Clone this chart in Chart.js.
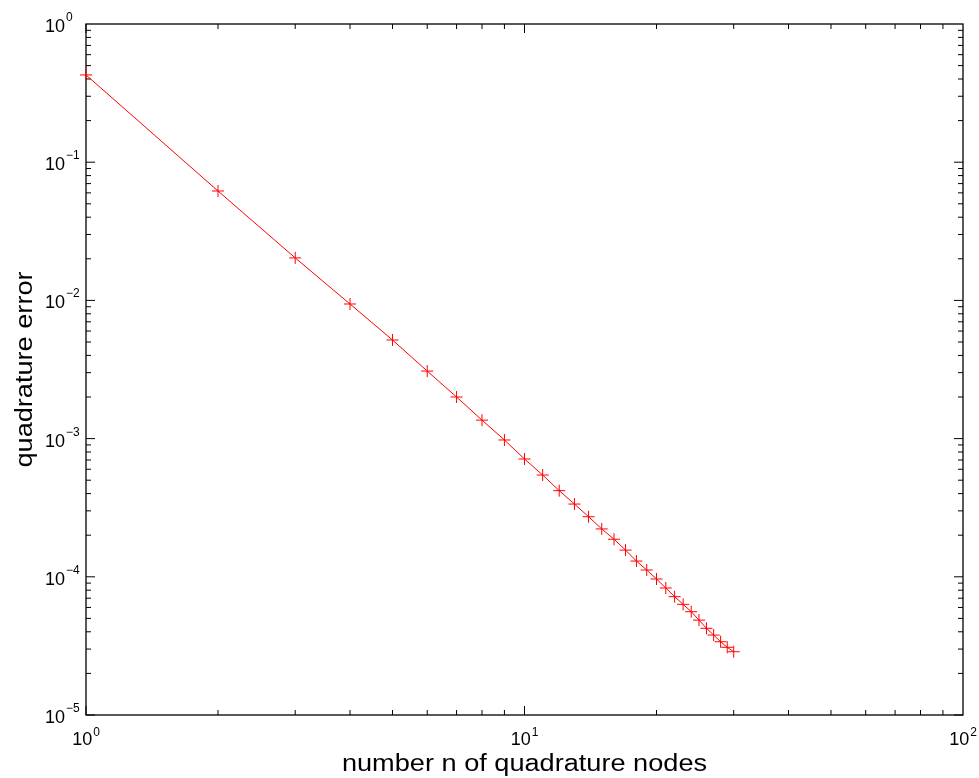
<!DOCTYPE html>
<html>
<head>
<meta charset="utf-8">
<script src="https://cdn.jsdelivr.net/npm/chart.js@4.4.0/dist/chart.umd.min.js"></script>
<style>
  html, body { margin: 0; padding: 0; background: #fff; }
  canvas { display: block; }
</style>
</head>
<body>
<canvas id="myChart" width="979" height="778"></canvas>
<script>
// Datos (n nodos vs error de cuadratura)
const nodes = [1, 2, 3, 4, 5, 6, 7, 8, 9, 10, 11, 12, 13, 14, 15,
               16, 17, 18, 19, 20, 21, 22, 23, 24, 25, 26, 27, 28, 29, 30];
const errors = [0.428, 0.0619, 0.0203, 0.00942, 0.00517, 0.00308, 0.00200, 0.00136, 0.000977, 0.000712,
                0.000545, 0.000420, 0.000336, 0.000272, 0.000222, 0.000187, 0.000156, 0.000130, 0.000112, 0.0000964,
                0.0000830, 0.0000718, 0.0000632, 0.0000559, 0.0000486, 0.0000424, 0.0000379, 0.0000339, 0.0000309, 0.0000287];
const xTickExps = [0, 1, 2];
const yTickExps = [0, -1, -2, -3, -4, -5];
const xTitle = 'number n of quadrature nodes';
const yTitle = 'quadrature error';

const FONT = '"Liberation Sans", Arial, Helvetica, sans-serif';

function supText(e) {
    return String(e).replace('-', '\u2212');
}

// Plugin: caja estilo MATLAB, ticks hacia dentro y etiquetas con exponente
const matlabAxes = {
    id: 'matlabAxes',
    beforeDatasetsDraw(chart) {
        const c = chart.ctx;
        const xs = chart.scales.x, ys = chart.scales.y;
        const a = chart.chartArea;
        c.save();
        c.strokeStyle = '#000';
        c.lineWidth = 1.3;
        c.strokeRect(a.left, a.top, a.right - a.left, a.bottom - a.top);

        c.lineWidth = 1;
        // ticks del eje x (mayores y menores)
        for (let k = 0; k < 2; k++) {
            for (let m = 1; m <= 9; m++) {
                const px = xs.getPixelForValue(m * Math.pow(10, k));
                const len = m === 1 ? 9 : 5;
                c.beginPath();
                c.moveTo(px, a.bottom); c.lineTo(px, a.bottom - len);
                c.moveTo(px, a.top); c.lineTo(px, a.top + len);
                c.stroke();
            }
        }
        // ticks del eje y
        for (let k = -5; k < 0; k++) {
            for (let m = 1; m <= 9; m++) {
                const py = ys.getPixelForValue(m * Math.pow(10, k));
                const len = m === 1 ? 9 : 5;
                c.beginPath();
                c.moveTo(a.left, py); c.lineTo(a.left + len, py);
                c.moveTo(a.right, py); c.lineTo(a.right - len, py);
                c.stroke();
            }
        }

        c.fillStyle = '#000';
        c.textBaseline = 'alphabetic';
        c.textAlign = 'left';
        const baseFont = '18px ' + FONT;
        const supFont = '12px ' + FONT;

        // etiquetas del eje x
        xTickExps.forEach(e => {
            const px = xs.getPixelForValue(Math.pow(10, e));
            c.font = baseFont;
            const w1 = c.measureText('10').width;
            c.font = supFont;
            const w2 = c.measureText(supText(e)).width;
            const x0 = px - (w1 + w2 + 1) / 2;
            c.font = baseFont;
            c.fillText('10', x0, a.bottom + 30);
            c.font = supFont;
            c.fillText(supText(e), x0 + w1 + 1, a.bottom + 21);
        });

        // etiquetas del eje y
        yTickExps.forEach(e => {
            const py = ys.getPixelForValue(Math.pow(10, e));
            c.font = baseFont;
            const w1 = c.measureText('10').width;
            c.fillText('10', 45, py + 8);
            c.font = supFont;
            c.fillText(supText(e), 45 + w1 + 1, py - 3);
        });

        // títulos de los ejes
        c.font = '23px ' + FONT;
        c.textAlign = 'center';
        c.save();
        c.translate((a.left + a.right) / 2, 771);
        c.scale(1.18, 1);
        c.fillText(xTitle, 0, 0);
        c.restore();

        c.save();
        c.translate(32, (a.top + a.bottom) / 2);
        c.rotate(-Math.PI / 2);
        c.scale(1.18, 1);
        c.fillText(yTitle, 0, 0);
        c.restore();

        c.restore();
    }
};

const ctx = document.getElementById('myChart').getContext('2d');
const myChart = new Chart(ctx, {
    type: 'scatter',
    data: {
        datasets: [{
            data: nodes.map((n, i) => ({ x: n, y: errors[i] })),
            showLine: true,
            borderColor: '#ff0000',
            borderWidth: 1,
            pointStyle: 'cross',
            pointRadius: 6,
            pointBorderColor: '#ff0000',
            pointBorderWidth: 1,
            pointHoverRadius: 6,
            clip: false
        }]
    },
    options: {
        responsive: false,
        animation: false,
        layout: { padding: { left: 86, top: 24, right: 16, bottom: 63 } },
        plugins: {
            legend: { display: false },
            tooltip: { enabled: false }
        },
        scales: {
            x: { type: 'logarithmic', min: 1, max: 100, display: false },
            y: { type: 'logarithmic', min: 1e-5, max: 1, display: false }
        }
    },
    plugins: [matlabAxes]
});
</script>
</body>
</html>
